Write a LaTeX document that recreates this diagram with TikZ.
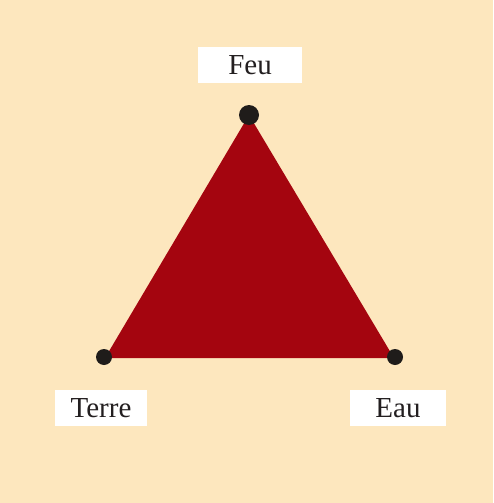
\documentclass[tikz,border=0pt]{standalone}
\usepackage{fontspec}
\setmainfont{Liberation Serif}
\definecolor{bg}{HTML}{FDE7BE}
\definecolor{tri}{HTML}{A4050F}
\definecolor{dot}{HTML}{1F1C1A}
\definecolor{txt}{HTML}{231F20}
\begin{document}
\begin{tikzpicture}[x=1pt,y=-1pt,
  lbl/.style={fill=white,text=txt,font=\fontsize{29}{32}\selectfont,inner sep=0pt,anchor=center},
  vdot/.style={circle,fill=dot,inner sep=0pt}]
\fill[bg] (0,0) rectangle (493,503);
\useasboundingbox (0,0) rectangle (493,503);
\coordinate (F) at (249,115);
\coordinate (T) at (105,358);
\coordinate (E) at (394,358);
\fill[tri] (F) -- (T) -- (E) -- cycle;
\node[vdot,minimum size=20pt] (fd) at (F) {};
\node[vdot,minimum size=16pt] (td) at (104,357) {};
\node[vdot,minimum size=16pt] (ed) at (395,357) {};
\node[lbl,minimum width=104pt,minimum height=36pt] (feu) at (250,65) {Feu};
\node[lbl,minimum width=92pt,minimum height=36pt] (terre) at (101,408) {Terre};
\node[lbl,minimum width=96pt,minimum height=36pt] (eau) at (398,408) {Eau};
\end{tikzpicture}
\end{document}
